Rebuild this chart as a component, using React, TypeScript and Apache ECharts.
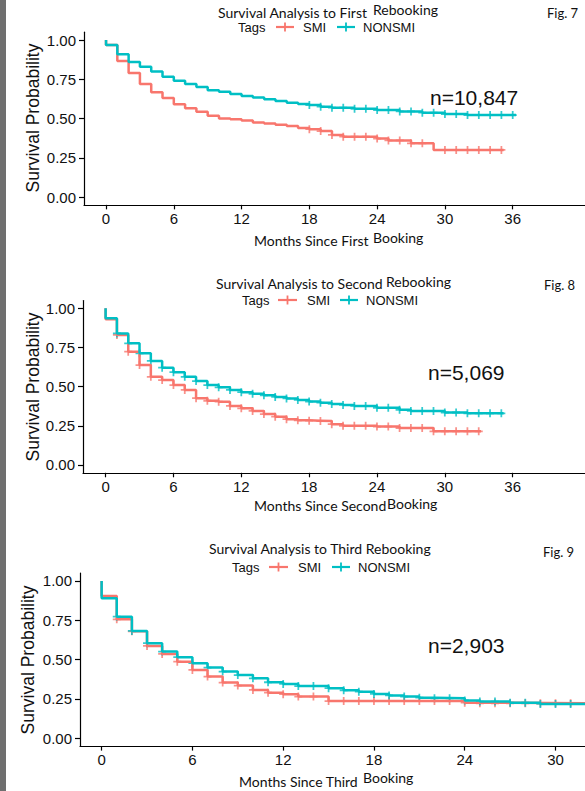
import React, { useEffect, useRef } from "react";
import * as echarts from "echarts";

const RED = "#F8766D";
const CYAN = "#00BFC4";

// ---------- Fig. 7 : First rebooking ----------
const f7TimeSMI = [0, 0, 1, 2, 3, 4, 5, 6, 7, 8, 9, 10, 11, 12, 13, 14, 15, 16, 17, 18, 19, 20, 21, 24, 25, 27, 29, 35.2];
const f7SurvSMI = [1.0, 0.968, 0.866, 0.79, 0.72, 0.667, 0.63, 0.59, 0.565, 0.543, 0.518, 0.5, 0.495, 0.488, 0.475, 0.468, 0.46, 0.452, 0.44, 0.432, 0.42, 0.395, 0.384, 0.372, 0.36, 0.342, 0.3, 0.3];
const f7TimeNON = [0, 0, 1, 2, 3, 4, 5, 6, 7, 8, 9, 10, 11, 12, 13, 14, 15, 16, 17, 18, 19, 20, 22, 24, 26, 28, 30, 32, 36.3];
const f7SurvNON = [1.0, 0.968, 0.91, 0.86, 0.83, 0.8, 0.766, 0.74, 0.72, 0.7, 0.68, 0.67, 0.656, 0.643, 0.633, 0.622, 0.611, 0.6, 0.592, 0.586, 0.575, 0.569, 0.562, 0.554, 0.545, 0.537, 0.528, 0.522, 0.522];
const f7CensorSMI = [18, 19, 20, 21, 22, 23, 24, 25, 26, 27, 28, 30, 31, 32, 33, 34, 35];
const f7CensorNON = [18, 19, 20, 21, 22, 23, 24, 25, 26, 27, 28, 29, 30, 31, 32, 33, 34, 35, 36];

// ---------- Fig. 8 : Second rebooking ----------
const f8TimeSMI = [0, 0, 1, 2, 3, 4, 5, 6, 7, 8, 9, 10, 11, 12, 13, 14, 15, 16, 17, 18, 19, 20, 21, 24, 26, 29, 33.2];
const f8SurvSMI = [1.0, 0.93, 0.83, 0.723, 0.638, 0.563, 0.542, 0.51, 0.479, 0.426, 0.41, 0.404, 0.377, 0.362, 0.345, 0.325, 0.308, 0.292, 0.285, 0.283, 0.28, 0.26, 0.25, 0.245, 0.236, 0.215, 0.215];
const f8TimeNON = [0, 0, 1, 2, 3, 4, 5, 6, 7, 8, 9, 10, 11, 12, 13, 14, 15, 16, 17, 18, 19, 20, 21, 22, 24, 26, 27, 30, 32, 35.2];
const f8SurvNON = [1.0, 0.936, 0.84, 0.777, 0.713, 0.664, 0.621, 0.592, 0.563, 0.536, 0.51, 0.496, 0.479, 0.465, 0.454, 0.445, 0.434, 0.425, 0.415, 0.405, 0.398, 0.39, 0.383, 0.377, 0.365, 0.352, 0.345, 0.335, 0.33, 0.33];
const f8CensorSMI = [1, 2, 3, 4, 5, 6, 7, 8, 9, 10, 11, 12, 13, 14, 15, 16, 17, 18, 19, 20, 21, 22, 23, 24, 25, 26, 27, 28, 29, 30, 31, 32, 33];
const f8CensorNON = [1, 2, 3, 4, 5, 6, 7, 8, 9, 10, 11, 12, 13, 14, 15, 16, 17, 18, 19, 20, 21, 22, 23, 24, 25, 26, 27, 28, 29, 30, 31, 32, 33, 34, 35];

// ---------- Fig. 9 : Third rebooking ----------
const f9TimeSMI = [0, 0, 1, 2, 3, 4, 5, 6, 7, 8, 9, 10, 11, 12, 13, 15, 24, 25, 33];
const f9SurvSMI = [1.0, 0.905, 0.756, 0.68, 0.587, 0.536, 0.487, 0.434, 0.392, 0.354, 0.335, 0.307, 0.29, 0.28, 0.265, 0.236, 0.226, 0.222, 0.222];
const f9TimeNON = [0, 0, 1, 2, 3, 4, 5, 6, 7, 8, 9, 10, 11, 12, 13, 15, 16, 17, 18, 19, 20, 21, 22, 24, 25, 27, 29, 33];
const f9SurvNON = [1.0, 0.89, 0.773, 0.682, 0.604, 0.551, 0.515, 0.477, 0.449, 0.424, 0.402, 0.381, 0.356, 0.345, 0.332, 0.318, 0.305, 0.296, 0.282, 0.272, 0.265, 0.258, 0.254, 0.24, 0.233, 0.226, 0.218, 0.218];
const f9CensorSMI = [1, 2, 3, 4, 5, 6, 7, 8, 9, 10, 11, 12, 13, 14, 15, 16, 17, 18, 19, 20, 21, 22, 23, 24, 25, 26, 27, 28, 29, 30, 31, 32];
const f9CensorNON = [1, 2, 3, 4, 5, 6, 7, 8, 9, 10, 11, 12, 13, 14, 15, 16, 17, 18, 19, 20, 21, 22, 23, 24, 25, 26, 27, 28, 29, 30, 31, 32];

const xTicks36 = [0, 6, 12, 18, 24, 30, 36];
const xTicks30 = [0, 6, 12, 18, 24, 30];
const yTicks = [0, 0.25, 0.5, 0.75, 1.0];

const seriesNames = ["SMI", "NONSMI"];

const PLUS = "path://M3.9,0H6.1V3.9H10V6.1H6.1V10H3.9V6.1H0V3.9H3.9Z";

function pairs(t: number[], s: number[]) {
  return t.map((v, i) => [v, s[i]]);
}
function survAt(t: number[], s: number[], x: number) {
  let v = s[0];
  for (let i = 0; i < t.length; i++) if (t[i] <= x) v = s[i];
  return v;
}
function censorPts(t: number[], s: number[], c: number[]) {
  return c.map((x) => [x, survAt(t, s, x)]);
}

function makeSeries(gi: number, tS: number[], sS: number[], cS: number[], tN: number[], sN: number[], cN: number[]) {
  const line = (name: string, data: number[][], color: string) => ({
    type: "line",
    name,
    xAxisIndex: gi,
    yAxisIndex: gi,
    data,
    step: "end",
    showSymbol: false,
    lineStyle: { color, width: 2.5 },
    itemStyle: { color },
    silent: true,
  });
  const marks = (name: string, data: number[][], color: string) => ({
    type: "scatter",
    name,
    xAxisIndex: gi,
    yAxisIndex: gi,
    data,
    symbol: PLUS,
    symbolSize: 8,
    itemStyle: { color },
    silent: true,
  });
  return [
    line(seriesNames[0], pairs(tS, sS), RED),
    marks(seriesNames[0], censorPts(tS, sS, cS), RED),
    line(seriesNames[1], pairs(tN, sN), CYAN),
    marks(seriesNames[1], censorPts(tN, sN, cN), CYAN),
  ];
}

const TICK_FONT = "Liberation Sans";

function xAxisCfg(gi: number, min: number, max: number, ticks: number[]) {
  return {
    type: "value",
    gridIndex: gi,
    min,
    max,
    axisLine: { show: true, onZero: false, lineStyle: { color: "#000", width: 1.2 } },
    axisTick: { show: true, length: 4.5, lineStyle: { color: "#000", width: 1.2 }, customValues: ticks },
    axisLabel: { customValues: ticks, color: "#111", fontSize: 15, fontFamily: TICK_FONT, margin: 6 },
    splitLine: { show: false },
  };
}
function yAxisCfg(gi: number) {
  return {
    type: "value",
    gridIndex: gi,
    min: -0.05,
    max: 1.05,
    axisLine: { show: true, onZero: false, lineStyle: { color: "#000", width: 1.2 } },
    axisTick: { show: true, length: 5, lineStyle: { color: "#000", width: 1.2 }, customValues: yTicks },
    axisLabel: {
      customValues: yTicks,
      color: "#111",
      fontSize: 15,
      fontFamily: TICK_FONT,
      margin: 8,
      formatter: (v: number) => v.toFixed(2),
    },
    splitLine: { show: false },
  };
}

function txt(text: string, x: number, y: number, font: string, extra: any = {}) {
  return {
    type: "text",
    x,
    y,
    silent: true,
    ...extra,
    style: { text, fill: "#111", font, textAlign: "left", textVerticalAlign: "middle", ...(extra.style || {}) },
  };
}
function legendKey(x1: number, x2: number, y: number, color: string) {
  const cx = (x1 + x2) / 2;
  return [
    { type: "line", silent: true, shape: { x1, y1: y, x2, y2: y }, style: { stroke: color, lineWidth: 2.2 } },
    { type: "line", silent: true, shape: { x1: cx, y1: y - 4.5, x2: cx, y2: y + 4.5 }, style: { stroke: color, lineWidth: 1.8 } },
  ];
}

const CAL = "Lato";
const ARIAL = "Liberation Sans";

function legendRow(y: number, tagsX: number, r1: number, r2: number, smiX: number, c1: number, c2: number, nonX: number) {
  return [
    txt("Tags", tagsX, y, `13px ${ARIAL}`),
    ...legendKey(r1, r2, y, RED),
    txt("SMI", smiX, y, `13px ${ARIAL}`),
    ...legendKey(c1, c2, y, CYAN),
    txt("NONSMI", nonX, y, `13px ${ARIAL}`),
  ];
}
function yName(cx: number, cy: number) {
  return {
    type: "text",
    x: cx,
    y: cy,
    rotation: Math.PI / 2,
    silent: true,
    style: { text: "Survival Probability", fill: "#111", font: `17.5px ${ARIAL}`, textAlign: "center", textVerticalAlign: "middle" },
  };
}

export default function App() {
  const ref = useRef<HTMLDivElement>(null);
  useEffect(() => {
    if (!ref.current) return;
    const chart = echarts.init(ref.current, undefined, { renderer: "svg" });
    const option: any = {
      animation: false,
      backgroundColor: "#fff",
      grid: [
        { left: 84, top: 32.15, width: 501, height: 172.7 },
        { left: 83, top: 300.5, width: 502, height: 172.3 },
        { left: 80, top: 573.1, width: 505, height: 173 },
      ],
      xAxis: [
        xAxisCfg(0, -1.95, 42.4, xTicks36),
        xAxisCfg(1, -2.0, 42.4, xTicks36),
        xAxisCfg(2, -1.43, 31.95, xTicks30),
      ],
      yAxis: [yAxisCfg(0), yAxisCfg(1), yAxisCfg(2)],
      series: [
        ...makeSeries(0, f7TimeSMI, f7SurvSMI, f7CensorSMI, f7TimeNON, f7SurvNON, f7CensorNON),
        ...makeSeries(1, f8TimeSMI, f8SurvSMI, f8CensorSMI, f8TimeNON, f8SurvNON, f8CensorNON),
        ...makeSeries(2, f9TimeSMI, f9SurvSMI, f9CensorSMI, f9TimeNON, f9SurvNON, f9CensorNON),
      ],
      graphic: [
        { type: "rect", silent: true, shape: { x: 0, y: 0, width: 6, height: 791 }, style: { fill: "#6f6f6f" } },
        // Fig 7
        txt("Survival Analysis to First", 218, 12, `14px ${CAL}`),
        txt("Rebooking", 373, 9.5, `14px ${CAL}`),
        txt("Fig. 7", 547, 13, `13px ${CAL}`),
        ...legendRow(27, 238, 276, 294, 303, 337, 355, 363),
        txt("Months Since First", 254, 240.5, `14px ${CAL}`),
        txt("Booking", 373, 237, `14px ${CAL}`),
        txt("n=10,847", 430, 97, `21px ${ARIAL}`),
        yName(33, 118),
        // Fig 8
        txt("Survival Analysis to Second", 216, 283, `14px ${CAL}`),
        txt("Rebooking", 386, 281.5, `14px ${CAL}`),
        txt("Fig. 8", 544, 285, `13px ${CAL}`),
        ...legendRow(300, 242, 278, 297, 307, 340, 358, 366),
        txt("Months Since Second", 254, 505.5, `14px ${CAL}`),
        txt("Booking", 387, 503, `14px ${CAL}`),
        txt("n=5,069", 428, 372, `21px ${ARIAL}`),
        yName(33, 387),
        // Fig 9
        txt("Survival Analysis to Third Rebooking", 209, 548, `14px ${CAL}`),
        txt("Fig. 9", 543, 552, `13px ${CAL}`),
        ...legendRow(567, 232, 269, 288, 298, 332, 350, 358),
        txt("Months Since Third", 239, 781.5, `14px ${CAL}`),
        txt("Booking", 363, 777, `14px ${CAL}`),
        txt("n=2,903", 428, 645, `21px ${ARIAL}`),
        yName(28, 660),
      ],
    };
    chart.setOption(option);
    return () => chart.dispose();
  }, []);
  return (
    <div style={{ position: "absolute", left: 0, top: 0, width: 585, height: 791, background: "#fff" }}>
      <div ref={ref} style={{ width: 585, height: 791 }} />
    </div>
  );
}
